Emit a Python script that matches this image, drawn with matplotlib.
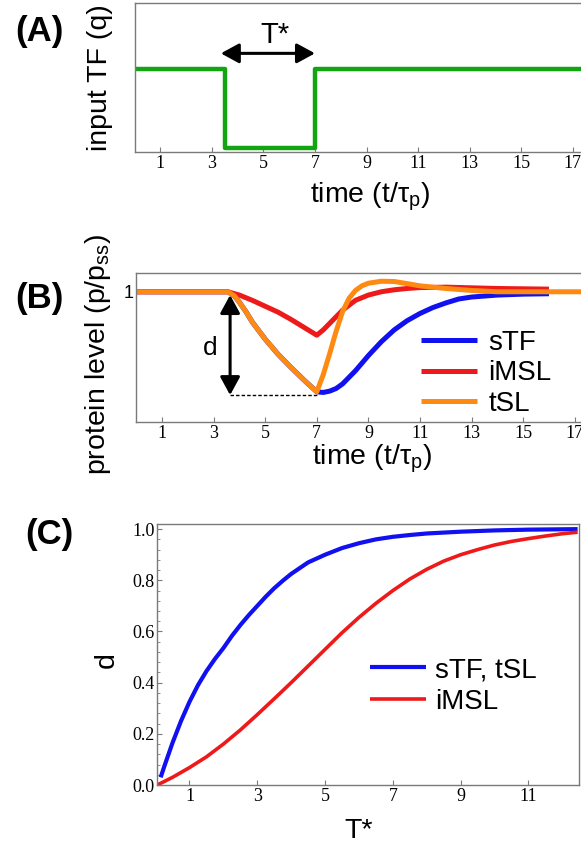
import numpy as np
import matplotlib
matplotlib.use('Agg')
import matplotlib.pyplot as plt

plt.rcParams['font.family'] = ['Liberation Sans', 'DejaVu Sans']
plt.rcParams['mathtext.fontset'] = 'custom'
plt.rcParams['mathtext.rm'] = 'Liberation Sans'
plt.rcParams['mathtext.it'] = 'Liberation Sans:italic'
plt.rcParams['lines.solid_joinstyle'] = 'round'
plt.rcParams['lines.solid_capstyle'] = 'butt'

# ---- data ----
# (A) input TF pulse
pulse_t = [0, 3.5, 7.0, 18.5]
pulse_q = [1, 0, 1, 1]
tstar_span = [3.35, 7.0]

# (B) protein level after the pulse
stf_t = [0, 3.55, 3.8, 4.0, 4.25, 4.5, 5.0, 5.5, 6.0, 6.5, 7.0, 7.25, 7.5, 7.75, 8.0,
         8.5, 9.0, 9.5, 10.0, 10.5, 11.0, 11.5, 12.0, 12.5, 13.0, 14.0, 15.0, 16.0]
stf_p = [1, 1, 0.97, 0.92, 0.85, 0.77, 0.64, 0.525, 0.425, 0.33, 0.24, 0.235, 0.245, 0.265, 0.30,
         0.40, 0.515, 0.62, 0.71, 0.78, 0.835, 0.88, 0.915, 0.945, 0.96, 0.975, 0.982, 0.985]

imsl_t = [0, 3.55, 4.0, 4.5, 5.0, 5.5, 6.0, 6.5, 7.0, 7.25, 7.5, 8.0, 8.5, 9.0, 9.5,
          10.0, 10.5, 11.0, 12.0, 13.0, 14.0, 16.0]
imsl_p = [1, 1, 0.975, 0.935, 0.89, 0.845, 0.79, 0.73, 0.67, 0.71, 0.76, 0.86, 0.935, 0.975, 1.0,
          1.015, 1.025, 1.032, 1.035, 1.03, 1.025, 1.02]

tsl_t = [0, 3.55, 3.8, 4.0, 4.25, 4.5, 5.0, 5.5, 6.0, 6.5, 7.0, 7.25, 7.5, 7.75, 8.0, 8.25,
         8.5, 8.75, 9.0, 9.5, 10.0, 10.5, 11.0, 11.5, 12.0, 13.0, 14.0, 18.5]
tsl_p = [1, 1, 0.97, 0.92, 0.85, 0.77, 0.64, 0.525, 0.425, 0.33, 0.24, 0.37, 0.53, 0.70, 0.85, 0.95,
         1.01, 1.045, 1.065, 1.08, 1.078, 1.062, 1.045, 1.035, 1.025, 1.01, 1.0, 1.0]

d_arrow_t = 3.64
d_span = [0.975, 0.215]
d_dash_end = 7.04

# (C) depth d vs pulse length T*
c_blue_t = [0.15, 0.25, 0.5, 0.75, 1, 1.25, 1.5, 1.75, 2, 2.25, 2.5, 2.75, 3, 3.25, 3.5,
            3.75, 4, 4.5, 5, 5.5, 6, 6.5, 7, 7.5, 8, 9, 10, 11, 12.45]
c_blue_d = [0.03, 0.07, 0.165, 0.25, 0.325, 0.39, 0.445, 0.4925, 0.535, 0.5825, 0.625, 0.664,
            0.70, 0.736, 0.769, 0.798, 0.825, 0.87, 0.90, 0.926, 0.945, 0.96, 0.97, 0.977,
            0.983, 0.99, 0.995, 0.998, 1.0]
c_red_t = [0.05, 0.5, 1, 1.5, 2, 2.5, 3, 3.5, 4, 4.5, 5, 5.5, 6, 6.5, 7, 7.5, 8, 8.5, 9, 9.5,
           10, 10.5, 11, 11.5, 12, 12.45]
c_red_d = [0.0, 0.03, 0.068, 0.11, 0.16, 0.215, 0.275, 0.337, 0.40, 0.465, 0.53, 0.595, 0.655,
           0.71, 0.76, 0.805, 0.843, 0.875, 0.9, 0.92, 0.938, 0.952, 0.963, 0.973, 0.982, 0.988]

time_ticks = [1, 3, 5, 7, 9, 11, 13, 15, 17]
time_labels = [str(v) for v in time_ticks]
c_xticks = [1, 3, 5, 7, 9, 11]
c_xlabels = [str(v) for v in c_xticks]
c_yticks = [0.0, 0.2, 0.4, 0.6, 0.8, 1.0]
c_ylabels = ['%.1f' % v for v in c_yticks]

BLUE = '#1010f0'
RED = '#ee1a1a'
ORANGE = '#ff8a12'
GREEN = '#12a512'
SPINE = '#7a7a7a'
SERIF = 'Liberation Serif'

fig = plt.figure(figsize=(5.81, 8.46), dpi=100)


def style_axes(ax):
    for s in ax.spines.values():
        s.set_color(SPINE)
        s.set_linewidth(1.0)
    ax.tick_params(direction='in', color=SPINE, length=3.5, width=0.8, pad=2)


arrow = dict(arrowstyle='<|-|>,head_length=0.55,head_width=0.3', lw=2.2,
             color='black', mutation_scale=20, shrinkA=0, shrinkB=0)

# ---- (A) ----
ax_a = fig.add_axes([0.2315, 0.8200, 0.812, 0.1768])
style_axes(ax_a)
ax_a.plot(pulse_t, pulse_q, drawstyle='steps-post', color=GREEN, lw=3.2)
ax_a.set_xlim(0, 18.3)
ax_a.set_ylim(-0.05, 1.84)
ax_a.set_yticks([])
ax_a.set_xticks(time_ticks, time_labels, fontfamily=SERIF, fontsize=13)
ax_a.annotate('', xy=(tstar_span[1], 1.2), xytext=(tstar_span[0], 1.2), arrowprops=arrow)
ax_a.text(5.45, 1.43, 'T*', fontsize=21, ha='center', va='center')
ax_a.set_ylabel('input TF (q)', fontsize=20.5)
ax_a.yaxis.set_label_coords(-0.046, 0.5)
ax_a.set_xlabel('time (t/τ$_\\mathrm{p}$)', fontsize=20.5, va='top')
ax_a.xaxis.set_label_coords(0.5, -0.19)

# ---- (B) ----
ax_b = fig.add_axes([0.2344, 0.5008, 0.8126, 0.1761])
style_axes(ax_b)
l_stf, = ax_b.plot(stf_t, stf_p, color=BLUE, lw=3.6, label='sTF')
l_imsl, = ax_b.plot(imsl_t, imsl_p, color=RED, lw=3.6, label='iMSL')
l_tsl, = ax_b.plot(tsl_t, tsl_p, color=ORANGE, lw=3.6, label='tSL')
ax_b.set_xlim(0, 18.3)
ax_b.set_ylim(0.008, 1.14)
ax_b.set_yticks([1], ['1'], fontsize=13)
ax_b.set_xticks(time_ticks, time_labels, fontfamily=SERIF, fontsize=13)
ax_b.plot([d_arrow_t, d_dash_end], [d_span[1], d_span[1]], color='black', lw=1.0,
          ls=(0, (2.5, 1.5)))
ax_b.annotate('', xy=(d_arrow_t, d_span[0]), xytext=(d_arrow_t, d_span[1]), arrowprops=arrow)
ax_b.text(2.86, 0.572, 'd', fontsize=19, ha='center', va='center')
ax_b.legend(handles=[l_stf, l_imsl, l_tsl], loc='center left',
            bbox_to_anchor=(0.7246, 0.5587), bbox_transform=fig.transFigure,
            frameon=False, fontsize=20, handlelength=2.0, handletextpad=0.42,
            labelspacing=0.15, borderpad=0, borderaxespad=0)
ax_b.set_ylabel('protein level (p/p$_\\mathrm{ss}$)', fontsize=20.5)
ax_b.yaxis.set_label_coords(-0.049, 0.458)
ax_b.set_xlabel('time (t/τ$_\\mathrm{p}$)', fontsize=20.5, va='top')
ax_b.xaxis.set_label_coords(0.5, -0.14)

# ---- (C) ----
ax_c = fig.add_axes([0.2707, 0.0721, 0.7264, 0.3085])
style_axes(ax_c)
l_c1, = ax_c.plot(c_blue_t, c_blue_d, color=BLUE, lw=3.0, label='sTF, tSL')
l_c2, = ax_c.plot(c_red_t, c_red_d, color=RED, lw=2.6, label='iMSL')
ax_c.set_xlim(0.05, 12.5)
ax_c.set_ylim(0, 1.02)
ax_c.set_xticks(c_xticks, c_xlabels, fontfamily=SERIF, fontsize=13)
ax_c.set_yticks(c_yticks, c_ylabels, fontfamily=SERIF, fontsize=13)
ax_c.set_yticks(np.arange(0, 1.01, 0.04), minor=True)
ax_c.tick_params(axis='y', which='minor', direction='in', color=SPINE, length=2, width=0.6)
ax_c.legend(handles=[l_c1, l_c2], loc='center left',
            bbox_to_anchor=(0.6368, 0.1893), bbox_transform=fig.transFigure,
            frameon=False, fontsize=20, handlelength=2.0, handletextpad=0.33,
            labelspacing=0.2, borderpad=0, borderaxespad=0)
ax_c.set_ylabel('d', fontsize=20.5)
ax_c.yaxis.set_label_coords(-0.088, 0.48)
ax_c.set_xlabel('T*', fontsize=20.5, va='top')
ax_c.xaxis.set_label_coords(0.478, -0.126)

# panel letters
fig.text(0.068, 0.963, '(A)', fontsize=25, fontweight='bold', ha='center', va='center')
fig.text(0.068, 0.647, '(B)', fontsize=25, fontweight='bold', ha='center', va='center')
fig.text(0.085, 0.368, '(C)', fontsize=25, fontweight='bold', ha='center', va='center')

fig.savefig('out.png', dpi=100)
